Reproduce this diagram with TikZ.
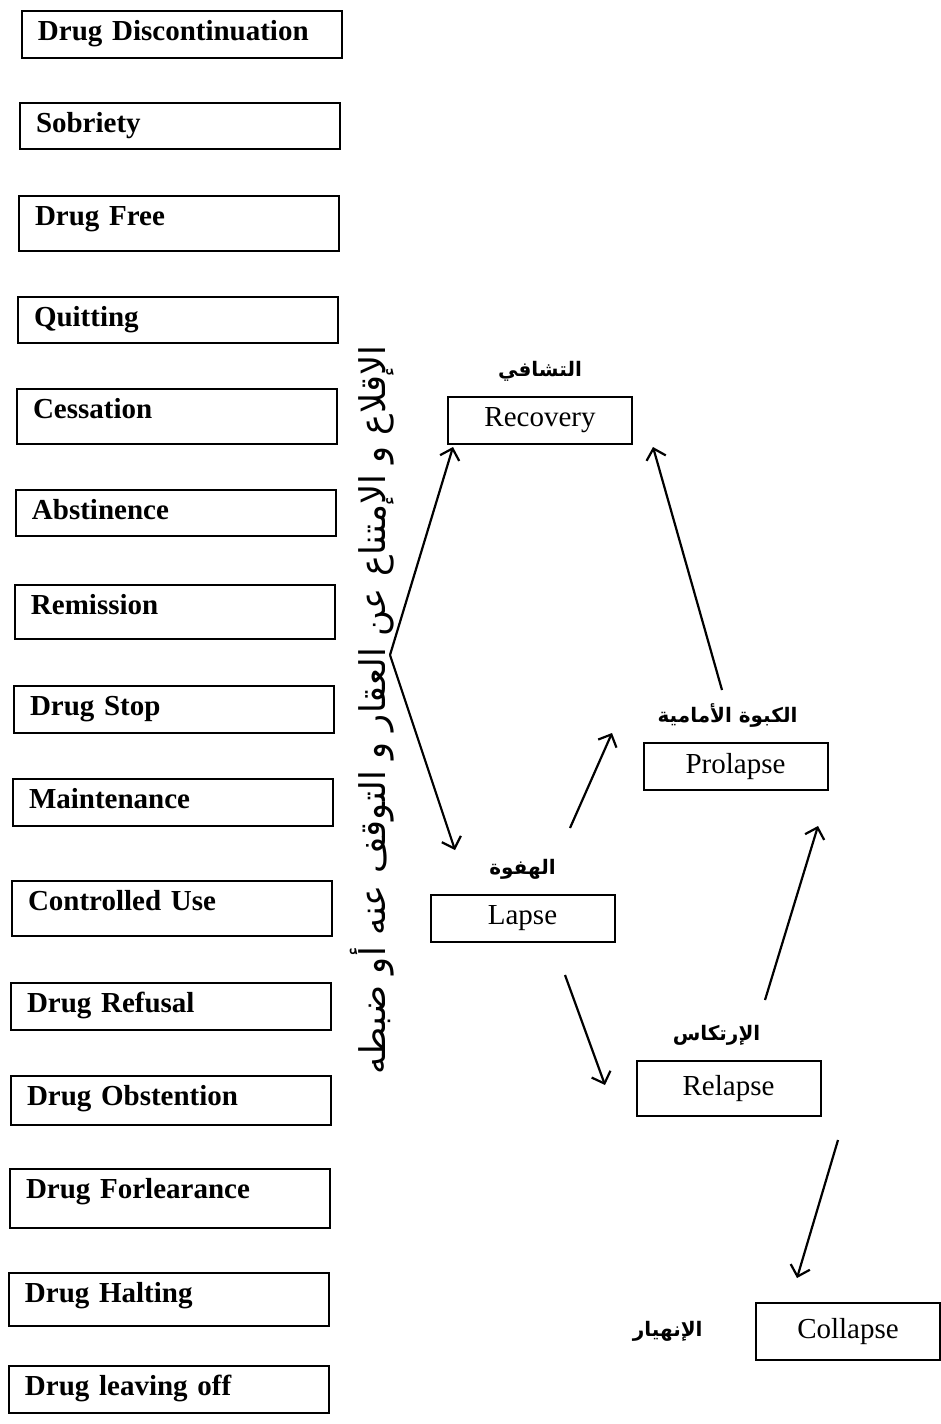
\documentclass[tikz,border=0pt]{standalone}
\usepackage{fontspec}
\setmainfont{Liberation Serif}
\newfontfamily\arabicfont[Script=Arabic]{DejaVu Sans}
\TeXXeTstate=1
\usetikzlibrary{positioning,arrows.meta}

\begin{document}
\begin{tikzpicture}[x=0.5pt,y=-0.5pt,
  termbox/.style={draw, line width=1pt, anchor=north west, align=left, text width=144pt,
    inner xsep=8pt, inner ysep=0pt, text height=14.5pt, font=\fontsize{14.5}{15}\selectfont\bfseries},
  stagebox/.style={draw, line width=1pt, minimum width=92pt, minimum height=23.5pt,
    inner sep=0pt, font=\fontsize{14.5}{15}\selectfont},
  arlabel/.style={font=\fontsize{10}{10}\selectfont\arabicfont\bfseries, inner sep=0pt},
  pointer/.style={line width=1.1pt, -{Straight Barb[length=5pt,width=10pt]}}]
\useasboundingbox (0,0) rectangle (941,1424);
\foreach \nm/\x/\y/\d/\txt in {
  discontinuation/21/10/9/Drug Discontinuation,
  sobriety/19/102/8.5/Sobriety,
  drugfree/18/195/13/Drug Free,
  quitting/17/296/8.5/Quitting,
  cessation/16/388/13/Cessation,
  abstinence/15/489/8.5/Abstinence,
  remission/14/584/12.5/Remission,
  drugstop/13/685/9/Drug Stop,
  maintenance/12/778/9/Maintenance,
  controlled/11/880/13/Controlled Use,
  refusal/10/982/9/Drug Refusal,
  obstention/10/1075/10/Drug Obstention,
  forlearance/9/1168/15/Drug Forlearance,
  halting/8/1272/12/Drug Halting,
  leaving/8/1365/9/Drug leaving off}
  \node [termbox, text depth=\d pt] (\nm) at (\x,\y) {\txt};

\node [stagebox] (recovery) at (540,420) {Recovery};
\node [stagebox] (prolapse) at (735.5,766.5) {Prolapse};
\node [stagebox] (lapse) at (522.5,918.5) {Lapse};
\node [stagebox, minimum height=27.5pt] (relapse) at (728.5,1088.5) {Relapse};
\node [stagebox, minimum height=28.5pt] (collapse) at (848,1331.5) {Collapse};

\node [arlabel, above=7pt of recovery] (recoveryar) {\beginR التشافي\endR};
\node [arlabel, above=7pt of prolapse, xshift=-4pt] (prolapsear) {\beginR الكبوة الأمامية\endR};
\node [arlabel, above=7pt of lapse] (lapsear) {\beginR الهفوة\endR};
\node [arlabel, above=7pt of relapse, xshift=-6pt] (relapsear) {\beginR الإرتكاس\endR};
\node [arlabel, left=26pt of collapse] (collapsear) {\beginR الإنهيار\endR};

\node [rotate=90, inner sep=0pt, font=\fontsize{17.7}{18}\selectfont\arabicfont] (abstain) at (372,710)
  {\beginR الإقلاع و الإمتناع عن العقار و التوقف عنه أو ضبطه\endR};

\coordinate (fork) at (390,655);
\coordinate (torecovery) at (453,447);
\coordinate (tolapse) at (455,850);
\coordinate (lapseup) at (570,828);
\coordinate (toprolapse) at (612,733);
\coordinate (prolapseup) at (722,690);
\coordinate (backrecovery) at (653,447);
\coordinate (lapsedown) at (565,975);
\coordinate (torelapse) at (605,1085);
\coordinate (relapseup) at (765,1000);
\coordinate (backprolapse) at (818,826);
\coordinate (relapsedown) at (838,1140);
\coordinate (tocollapse) at (797,1278);

\draw [pointer] (fork) -- (torecovery);
\draw [pointer] (fork) -- (tolapse);
\draw [pointer] (lapseup) -- (toprolapse);
\draw [pointer] (prolapseup) -- (backrecovery);
\draw [pointer] (lapsedown) -- (torelapse);
\draw [pointer] (relapseup) -- (backprolapse);
\draw [pointer] (relapsedown) -- (tocollapse);
\end{tikzpicture}
\end{document}
